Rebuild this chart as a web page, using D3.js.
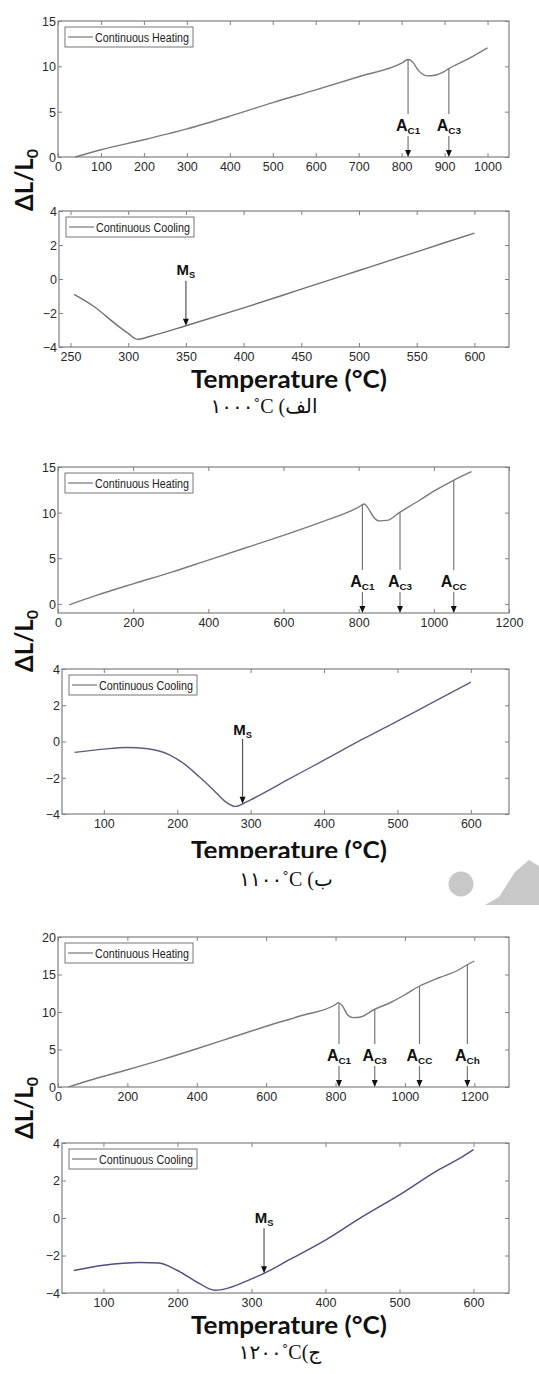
<!DOCTYPE html>
<html lang="en">
<head>
    <meta charset="utf-8">
    <title></title>
    <script src="https://d3js.org/d3.v7.min.js"></script>
    <style type="text/css">
        body{ margin:0; background:#fff; }
        .tick text{ font-family:"Liberation Sans", Arial, sans-serif; font-size:12.5px; fill:#2a2a2a; }
        .legend{ font-family:"Liberation Sans", Arial, sans-serif; font-size:12px; fill:#222; }
        .mark{ font-family:"Liberation Sans", Arial, sans-serif; font-weight:bold; fill:#111; }
        .xtitle{ font-family:Lato, "Open Sans", sans-serif; font-weight:bold; font-size:24px; fill:#111; }
        .ytitle{ font-family:Lato, "Open Sans", sans-serif; font-weight:bold; font-size:24px; fill:#111; }
        .caption{ font-family:"Liberation Serif", "DejaVu Sans", serif; font-size:20px; fill:#111; }
    </style>
</head>
<body>
<script type="text/javascript">

    // ---- data: [temperature, dL/L0] ----
    const heating1000 = [[40,0],[100,0.8],[200,1.9],[300,3.1],[400,4.5],[500,6.0],[600,7.4],[700,8.85],[800,10.35],
        [815,10.75],[825,10.5],[840,9.5],[860,8.95],[880,9.05],[900,9.45],[910,9.75],[950,10.7],[1000,12.05]];
    const cooling1000 = [[253,-0.9],[270,-1.6],[290,-2.7],[300,-3.2],[308,-3.55],[320,-3.35],[350,-2.75],[400,-1.7],
        [450,-0.6],[500,0.5],[550,1.6],[600,2.7]];

    const heating1100 = [[30,-0.1],[100,0.9],[200,2.2],[300,3.45],[400,4.8],[500,6.15],[600,7.5],[700,8.95],[800,10.6],
        [815,10.95],[825,10.5],[840,9.5],[855,9.1],[875,9.15],[910,10.05],[960,11.3],[1000,12.35],[1055,13.6],[1100,14.5]];
    const cooling1100 = [[60,-0.6],[100,-0.42],[130,-0.33],[160,-0.4],[190,-0.75],[210,-1.25],[230,-1.95],[250,-2.7],
        [265,-3.3],[280,-3.58],[290,-3.42],[300,-3.22],[350,-2.12],[400,-1.03],[450,0.07],[500,1.12],[550,2.2],[600,3.27]];

    const heating1200 = [[30,0],[100,1.0],[200,2.3],[300,3.65],[400,5.1],[500,6.6],[600,8.1],[700,9.5],[800,11.0],
        [808,11.25],[820,10.8],[835,9.6],[850,9.25],[870,9.3],[910,10.3],[960,11.3],[1000,12.3],[1040,13.4],
        [1100,14.6],[1150,15.5],[1180,16.3],[1200,16.8]];
    const cooling1200 = [[60,-2.8],[100,-2.52],[150,-2.37],[175,-2.4],[200,-2.8],[230,-3.5],[250,-3.85],[260,-3.82],
        [300,-3.25],[317,-2.95],[350,-2.25],[400,-1.18],[450,0.07],[500,1.23],[550,2.5],[580,3.15],[600,3.65]];

    // ---- ticks, legends, transformation marks ----
    const ticksHeat1000 = d3.range(0, 1001, 100);
    const ticksCool1000 = d3.range(250, 601, 50);
    const ticksHeat1200 = d3.range(0, 1201, 200);
    const ticksCool = d3.range(100, 601, 100);
    const ticksY15 = [0, 5, 10, 15];
    const ticksY20 = [0, 5, 10, 15, 20];
    const ticksY4 = [-4, -2, 0, 2, 4];

    const marks1000 = [["C1", 815], ["C3", 910]];
    const marks1100 = [["C1", 810], ["C3", 910], ["CC", 1053]];
    const marks1200 = [["C1", 810], ["C3", 913], ["CC", 1042], ["Ch", 1180]];
    const msTemps = [350, 289, 317];

    // written in display order, as the figure shows them
    const captions = ["۱۰۰۰˚C (الف", "۱۱۰۰˚C (ب", "۱۲۰۰˚C(ج"];

    const svg = d3.select("body").append("svg")
        .attr("width", 539).attr("height", 1374);

    const panels = [
        {box:[58,509,21,157], xd:[0,1050], yd:[0,15], xt:ticksHeat1000, yt:ticksY15, data:heating1000, name:"Continuous Heating", marks:marks1000, col:"#7a7a7a"},
        {box:[59,509,211,347], xd:[240,630], yd:[-4,4], xt:ticksCool1000, yt:ticksY4, data:cooling1000, name:"Continuous Cooling", ms:msTemps[0], lift:[56,45], col:"#707078"},
        {box:[58,509,467,613], xd:[0,1200], yd:[-1,15], xt:ticksHeat1200, yt:ticksY15, data:heating1100, name:"Continuous Heating", marks:marks1100, col:"#7a7a80"},
        {box:[62,509,669,814], xd:[43,652], yd:[-4,4], xt:ticksCool, yt:ticksY4, data:cooling1100, name:"Continuous Cooling", ms:msTemps[1], lift:[74,65], col:"#5c5c80"},
        {box:[58,509,937,1087], xd:[0,1300], yd:[0,20], xt:ticksHeat1200, yt:ticksY20, data:heating1200, name:"Continuous Heating", marks:marks1200, col:"#7a7a7a"},
        {box:[62,509,1143,1293], xd:[44,648], yd:[-4,4], xt:ticksCool, yt:ticksY4, data:cooling1200, name:"Continuous Cooling", ms:msTemps[2], lift:[55,45], col:"#4e4e82"}
    ];

    function arrowHead(g, cx, tipY) {
        g.append("path")
            .attr("d", `M${cx-3},${tipY-7} L${cx+3},${tipY-7} L${cx},${tipY} Z`)
            .attr("fill", "#111");
    }

    function markLabel(g, cx, cy, main, sub, size) {
        const t = g.append("text").attr("class", "mark")
            .attr("x", cx).attr("y", cy).attr("text-anchor", "middle")
            .style("font-size", size + "px");
        t.append("tspan").text(main);
        t.append("tspan").attr("dy", 3).style("font-size", (size * 0.62) + "px").text(sub);
    }

    panels.forEach(p => {
        const [l, r, t, b] = p.box;
        const x = d3.scaleLinear().domain(p.xd).range([l, r]);
        const y = d3.scaleLinear().domain(p.yd).range([b, t]);
        const g = svg.append("g");

        g.append("rect").attr("x", l).attr("y", t).attr("width", r - l).attr("height", b - t)
            .attr("fill", "none").attr("stroke", "#808080").attr("stroke-width", 1.2);

        g.append("g").attr("transform", `translate(0,${b})`)
            .call(d3.axisBottom(x).tickValues(p.xt).tickFormat(d3.format("d"))
                .tickSizeInner(-4).tickSizeOuter(0).tickPadding(5));
        const ay = g.append("g").attr("transform", `translate(${l},0)`)
            .call(d3.axisLeft(y).tickValues(p.yt).tickFormat(d3.format("d"))
                .tickSizeInner(-4).tickSizeOuter(0).tickPadding(2));
        g.append("g").attr("transform", `translate(0,${t})`)
            .call(d3.axisTop(x).tickValues(p.xt).tickSizeInner(-4).tickSizeOuter(0).tickFormat(""));
        g.append("g").attr("transform", `translate(${r},0)`)
            .call(d3.axisRight(y).tickValues(p.yt).tickSizeInner(-4).tickSizeOuter(0).tickFormat(""));
        g.selectAll(".domain").remove();
        g.selectAll(".tick line").attr("stroke", "#808080");
        ay.selectAll(".tick text").attr("dy", "0.35em");

        g.append("path").datum(p.data)
            .attr("fill", "none").attr("stroke", p.col).attr("stroke-width", 1.4)
            .attr("d", d3.line().x(d => x(d[0])).y(d => y(d[1])).curve(d3.curveMonotoneX));

        // legend
        const lg = g.append("g").attr("transform", `translate(${l + 7},${t + 6})`);
        lg.append("rect").attr("width", 128).attr("height", 20)
            .attr("fill", "#fff").attr("stroke", "#777").attr("stroke-width", 1);
        lg.append("line").attr("x1", 3).attr("x2", 28).attr("y1", 10).attr("y2", 10)
            .attr("stroke", "#777").attr("stroke-width", 1.2);
        lg.append("text").attr("class", "legend").attr("x", 30).attr("y", 14.5)
            .attr("textLength", 94).attr("lengthAdjust", "spacingAndGlyphs").text(p.name);

        const interp = d3.scaleLinear().domain(p.data.map(d => d[0])).range(p.data.map(d => d[1]));

        // transformation temperatures on heating
        (p.marks || []).forEach(([sub, T]) => {
            const cx = x(T);
            g.append("line").attr("x1", cx).attr("x2", cx)
                .attr("y1", y(interp(T))).attr("y2", b - 43)
                .attr("stroke", "#777").attr("stroke-width", 1.2);
            markLabel(g, cx, b - 26, "A", sub, 16);
            g.append("line").attr("x1", cx).attr("x2", cx).attr("y1", b - 21).attr("y2", b - 6)
                .attr("stroke", "#777").attr("stroke-width", 1.2);
            arrowHead(g, cx, b);
        });

        // martensite start on cooling
        if (p.ms) {
            const cx = x(p.ms), cy = y(interp(p.ms));
            markLabel(g, cx, cy - p.lift[0] + 5, "M", "S", 15);
            g.append("line").attr("x1", cx).attr("x2", cx).attr("y1", cy - p.lift[1]).attr("y2", cy - 6)
                .attr("stroke", "#555").attr("stroke-width", 1.2);
            arrowHead(g, cx, cy);
        }
    });

    // axis titles
    [180, 641, 1108].forEach(cy => {
        const t = svg.append("text").attr("class", "ytitle")
            .attr("transform", `translate(33,${cy}) rotate(-90)`).attr("text-anchor", "middle");
        t.append("tspan").text("ΔL/L");
        t.append("tspan").attr("dy", 5).style("font-size", "16px").text("0");
    });
    [388, 859, 1334].forEach(by => {
        svg.append("text").attr("class", "xtitle")
            .attr("x", 289).attr("y", by).attr("text-anchor", "middle")
            .attr("textLength", 196).attr("lengthAdjust", "spacingAndGlyphs")
            .text("Temperature (°C)");
    });
    // bottom of middle title is cut in the original
    svg.append("rect").attr("x", 180).attr("y", 858).attr("width", 200).attr("height", 10).attr("fill", "#fff");

    // captions
    [[264, 413, captions[0]], [286, 886, captions[1]], [280, 1359, captions[2]]].forEach(([cx, by, s]) => {
        svg.append("text").attr("class", "caption")
            .attr("x", cx).attr("y", by).attr("text-anchor", "middle")
            .attr("direction", "ltr").text(s);
    });

    // grey watermark shapes
    svg.append("circle").attr("cx", 461).attr("cy", 884).attr("r", 12.5).attr("fill", "#c8c8c8");
    svg.append("path").attr("d", "M485,905 L499,897 L515,872 L529,860 L539,866 L539,905 Z").attr("fill", "#c8c8c8");

</script>
</body>
</html>
